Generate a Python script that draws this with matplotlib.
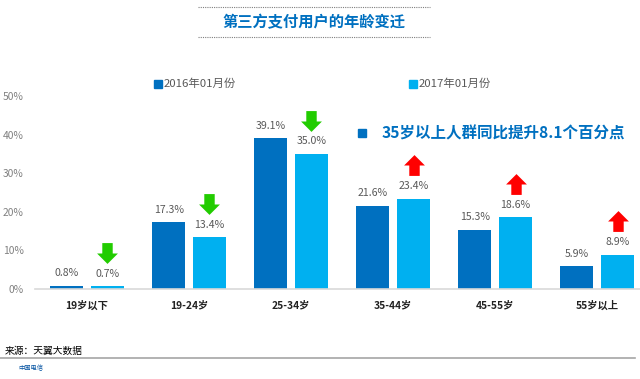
import matplotlib
matplotlib.use("Agg")
import matplotlib.pyplot as plt
import numpy as np
from matplotlib.path import Path
from matplotlib.transforms import offset_copy

plt.rcParams['font.family'] = ['Noto Sans CJK SC', 'DejaVu Sans']

categories = ["19岁以下", "19-24岁", "25-34岁", "35-44岁", "45-55岁", "55岁以上"]
series_names = ["2016年01月份", "2017年01月份"]
values_2016 = [0.8, 17.3, 39.1, 21.6, 15.3, 5.9]
values_2017 = [0.7, 13.4, 35.0, 23.4, 18.6, 8.9]
yticks = [0, 10, 20, 30, 40, 50]
title = "第三方支付用户的年龄变迁"
note = "35岁以上人群同比提升8.1个百分点"
source = "来源：天翼大数据"

c2016 = "#0070C0"
c2017 = "#00B0F0"
W, H = 640, 379
fig = plt.figure(figsize=(W / 100, H / 100), dpi=100)
ax = fig.add_axes([35 / W, (H - 289) / H, (W - 35) / W, (289 - 96) / H])

x = np.arange(len(categories))
bw = 0.325
off = 0.2
ax.bar(x - off, values_2016, bw, color=c2016, zorder=2)
ax.bar(x + off, values_2017, bw, color=c2017, zorder=2)
ax.set_xlim(-0.51, 5.42)
ax.set_ylim(0, 50)

for s in ["top", "right", "left"]:
    ax.spines[s].set_visible(False)
ax.spines["bottom"].set_color("#D9D9D9")
ax.spines["bottom"].set_linewidth(1.2)
ax.set_yticks(yticks)
ax.set_yticklabels([f"{v}%" for v in yticks], color="#808080", fontsize=7.4)
ax.tick_params(axis="y", length=0, pad=8)
ax.set_xticks(x)
ax.set_xticklabels(categories, fontsize=7.4, fontweight="bold", color="#222222")
ax.tick_params(axis="x", length=0, pad=8)

lab_tr = offset_copy(ax.transData, fig=fig, y=9, units="points")
for xi, v in zip(x - off, values_2016):
    ax.text(xi, v, f"{v:.1f}%", transform=lab_tr, ha="center", va="center",
            fontsize=7.6, color="#595959")
for xi, v in zip(x + off, values_2017):
    ax.text(xi, v, f"{v:.1f}%", transform=lab_tr, ha="center", va="center",
            fontsize=7.6, color="#595959")

# arrows
up_verts = [(-0.25, -0.5), (0.25, -0.5), (0.25, 0.0), (0.5, 0.0), (0.0, 0.5),
            (-0.5, 0.0), (-0.25, 0.0), (-0.25, -0.5)]
up_path = Path(up_verts, [Path.MOVETO] + [Path.LINETO] * 6 + [Path.CLOSEPOLY])
down_path = Path([(a, -b) for a, b in up_verts], [Path.MOVETO] + [Path.LINETO] * 6 + [Path.CLOSEPOLY])
arr_tr = offset_copy(ax.transData, fig=fig, y=24, units="points")
for xi, a, b in zip(x + off, values_2016, values_2017):
    up = b > a
    ax.plot([xi], [b], marker=up_path if up else down_path, markersize=15,
            color="#FF0000" if up else "#22CC00", transform=arr_tr,
            clip_on=False, linestyle="none", markeredgewidth=0)

# legend
fig.patches.append(plt.Rectangle((154 / W, 1 - 88 / H), 8 / W, 8 / H,
                                 transform=fig.transFigure, color=c2016))
fig.text(164 / W, 1 - 83.5 / H, series_names[0], fontsize=8.2, color="#595959", va="center")
fig.patches.append(plt.Rectangle((409 / W, 1 - 88 / H), 8 / W, 8 / H,
                                 transform=fig.transFigure, color=c2017))
fig.text(419 / W, 1 - 83.5 / H, series_names[1], fontsize=8.2, color="#595959", va="center")

# note
fig.patches.append(plt.Rectangle((358 / W, 1 - 137 / H), 8 / W, 8 / H,
                                 transform=fig.transFigure, color=c2016))
fig.text(382 / W, 1 - 133 / H, note, fontsize=11.2, fontweight="bold", color="#0070C0", va="center")

# title
fig.text(314 / W, 1 - 22 / H, title, fontsize=11, fontweight="bold", color="#0070C0",
         ha="center", va="center")
for yy in (7, 37):
    fig.add_artist(plt.Line2D([198 / W, 430 / W], [1 - yy / H, 1 - yy / H],
                              transform=fig.transFigure, color="#7F7F7F",
                              linestyle=(0, (1, 1)), linewidth=0.8))

# source
fig.text(5 / W, 1 - 351 / H, source, fontsize=7, color="#000000", va="center")
fig.add_artist(plt.Line2D([0, 635 / W], [1 - 358 / H, 1 - 358 / H],
                          transform=fig.transFigure, color="#A6A6A6", linewidth=1.2))
fig.text(18 / W, 1 - 368 / H, "中国电信", fontsize=4.5, color="#0050A0", va="center")

fig.savefig("out.png", dpi=100)
